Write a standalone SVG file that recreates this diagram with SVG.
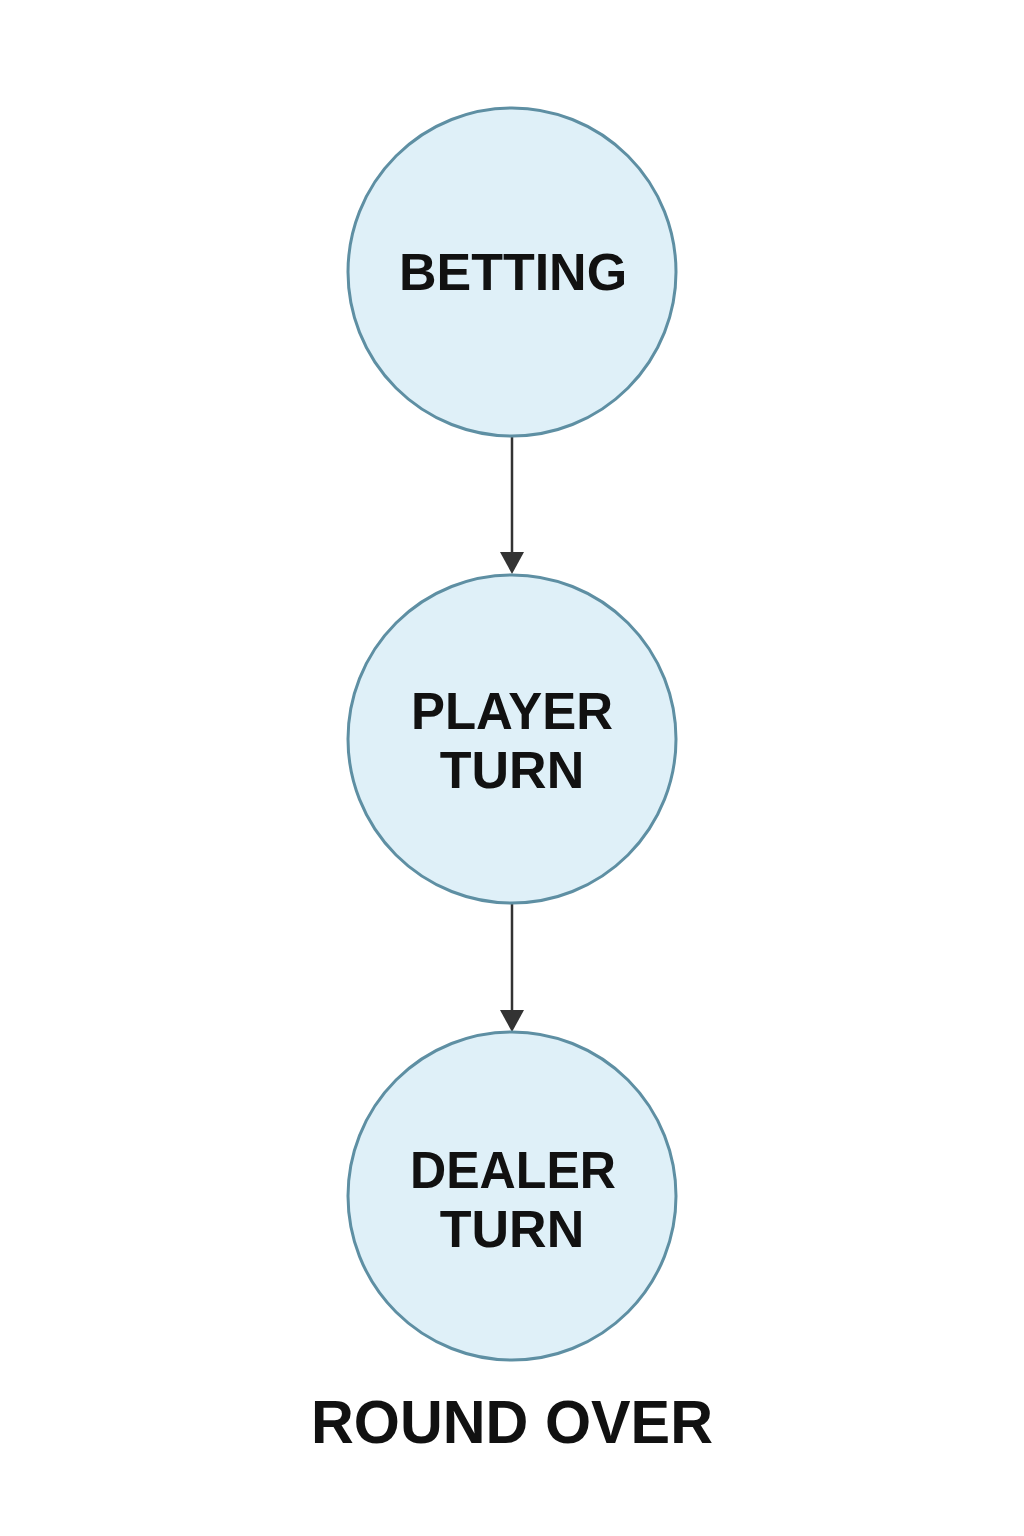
<svg xmlns="http://www.w3.org/2000/svg" width="1024" height="1536" viewBox="0 0 1024 1536">
<style>
.node{fill:#DFF0F8;stroke:#5E8FA3;stroke-width:3}
.lbl{font-family:"Liberation Sans",Arial,sans-serif;font-weight:bold;font-size:52px;fill:#111;text-anchor:middle}
.edge{stroke:#333;stroke-width:2.5;fill:none}
</style>
<defs>
<marker id="arr" markerWidth="12" markerHeight="11" refX="12" refY="5.5" orient="auto" markerUnits="userSpaceOnUse" viewBox="0 0 12 11">
<path d="M0,0 L12,5.5 L0,11 z" fill="#333"/>
</marker>
</defs>
<rect width="1024" height="1536" fill="#fff"/>
<g id="connectors">
<line class="edge" x1="512" y1="437" x2="512" y2="552"/>
<path d="M500,552 L524,552 L512,574 z" fill="#333"/>
<line class="edge" x1="512" y1="903" x2="512" y2="1010"/>
<path d="M500,1010 L524,1010 L512,1032 z" fill="#333"/>
</g>
<g id="betting">
<circle class="node" cx="512" cy="272" r="164"/>
<text class="lbl" x="513" y="290">BETTING</text>
</g>
<g id="player-turn">
<circle class="node" cx="512" cy="739" r="164"/>
<text class="lbl" x="512" y="729" textLength="202" lengthAdjust="spacingAndGlyphs">PLAYER</text>
<text class="lbl" x="512" y="788">TURN</text>
</g>
<g id="dealer-turn">
<circle class="node" cx="512" cy="1196" r="164"/>
<text class="lbl" x="513" y="1188" textLength="206" lengthAdjust="spacingAndGlyphs">DEALER</text>
<text class="lbl" x="512" y="1247">TURN</text>
</g>
<g id="round-over">
<text class="lbl" x="512" y="1443" style="font-size:62px" textLength="402" lengthAdjust="spacingAndGlyphs">ROUND OVER</text>
</g>
</svg>
